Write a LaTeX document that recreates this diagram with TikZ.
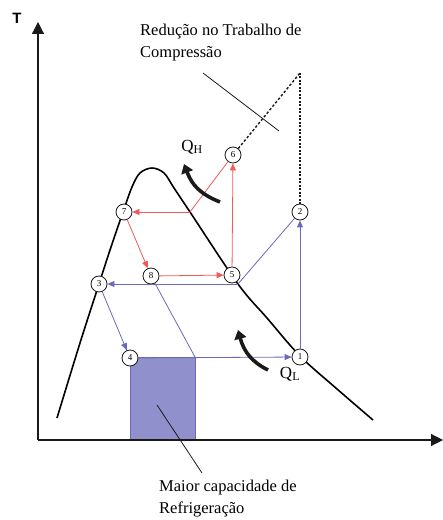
\documentclass[tikz,border=0pt]{standalone}
\usepackage{fontspec}
\setmainfont{Liberation Serif}
\setsansfont{Liberation Sans}
\usepackage{tikz}
\usepackage{xcolor}
\usetikzlibrary{arrows.meta,positioning,calc}
\definecolor{cold}   {HTML}{6A6AB8}
\definecolor{hot}    {HTML}{F05A5A}
\definecolor{area}   {HTML}{9090CC}
\definecolor{ink}    {HTML}{1A1A1A}
\tikzset{
  state/.style={circle,draw=ink,fill=white,line width=0.8pt,inner sep=0pt,
                minimum size=16pt,font=\fontsize{9}{9}\selectfont},
  coldline/.style={draw=cold,line width=0.8pt},
  hotline/.style={draw=hot,line width=0.8pt},
  tip/.style={-{Triangle[length=7pt,width=6pt]}},
  heatflow/.style={ink,line width=3.6pt,-{Triangle[length=9pt,width=12pt]}},
  label/.style={font=\fontsize{16.5}{22}\selectfont,align=left,inner sep=0pt},
}
\begin{document}
\begin{tikzpicture}[x=1pt,y=1pt]
  \useasboundingbox (0,0) rectangle (443,520);
  % capacity area
  \fill[area,draw=cold,line width=0.8pt] (130,80) rectangle (195,163);
  % axes
  \draw[ink,line width=1.2pt,-{Triangle[length=12pt,width=12pt]}] (38,80) -- (38,498);
  \draw[ink,line width=1.2pt,-{Triangle[length=12pt,width=12pt]}] (38,80) -- (443,80);
  \node[font=\sffamily\bfseries\fontsize{15}{15}\selectfont] (taxis) at (17,502) {T};
  % saturation dome
  \draw[black,line width=1.6pt] plot[smooth,tension=0.55] coordinates {
    (57,102) (80,177) (99,236) (110,270) (123,308) (132,333) (140,347)
    (152,352) (164,347) (174,332) (190,308) (238,236) (267,202)
    (300,164) (337,131) (373,100)};
  % junction points
  \coordinate (satv)  at (238,236);
  \coordinate (bendh) at (190,308);
  \coordinate (mixc)  at (195,163);
  \coordinate (ideal) at (300,447);
  % states
  \node[state] (s1) at (300,163) {1};
  \node[state] (s2) at (300,308) {2};
  \node[state] (s3) at (99,236)  {3};
  \node[state] (s4) at (130,162) {4};
  \node[state] (s5) at (232,245) {5};
  \node[state] (s6) at (233,365) {6};
  \node[state] (s7) at (124,308) {7};
  \node[state] (s8) at (151,244) {8};
  % simple cycle (blue)
  \draw[coldline,tip] (s1) -- (s2);
  \draw[coldline] (s2) -- (satv);
  \draw[coldline,tip] (satv) -- (s3);
  \draw[coldline,tip] (s3) -- (s4);
  \draw[coldline,tip] (s4) -- (s1);
  \draw[coldline] (s8) -- (mixc);
  % two-stage cycle (red)
  \draw[hotline,tip] (s5) -- (s6);
  \draw[hotline] (s6) -- (bendh);
  \draw[hotline,tip] (bendh) -- (s7);
  \draw[hotline,tip] (s7) -- (s8);
  \draw[hotline,tip] (s8) -- (s5);
  % single-stage compression end
  \draw[ink,line width=1.4pt,dash pattern=on 2.5pt off 2pt] (s6) -- (ideal);
  \draw[ink,line width=1.4pt,dash pattern=on 2pt off 1.5pt] (ideal) -- (s2);
  % heat flows
  \draw[heatflow] (220,318) .. controls (200,326) and (192,335) .. (184,356);
  \node[font=\fontsize{17}{17}\selectfont] (qh) at (192,373) {Q\textsubscript{H}};
  \draw[heatflow] (268,150) .. controls (252,158) and (244,168) .. (238,190);
  \node[font=\fontsize{17}{17}\selectfont] (ql) at (290,146) {Q\textsubscript{L}};
  % callouts
  \node[label,anchor=north west] (work) at (140,496)
    {Redução no Trabalho de\\Compressão};
  \coordinate (worktip) at (279,389);
  \draw[ink,line width=0.8pt] (203,447) -- (worktip);
  \node[label,anchor=north west] (cap) at (159,40)
    {Maior capacidade de\\Refrigeração};
  \coordinate (captip) at (157,115);
  \draw[ink,line width=0.8pt] (captip) -- (202,47);
\end{tikzpicture}
\end{document}
